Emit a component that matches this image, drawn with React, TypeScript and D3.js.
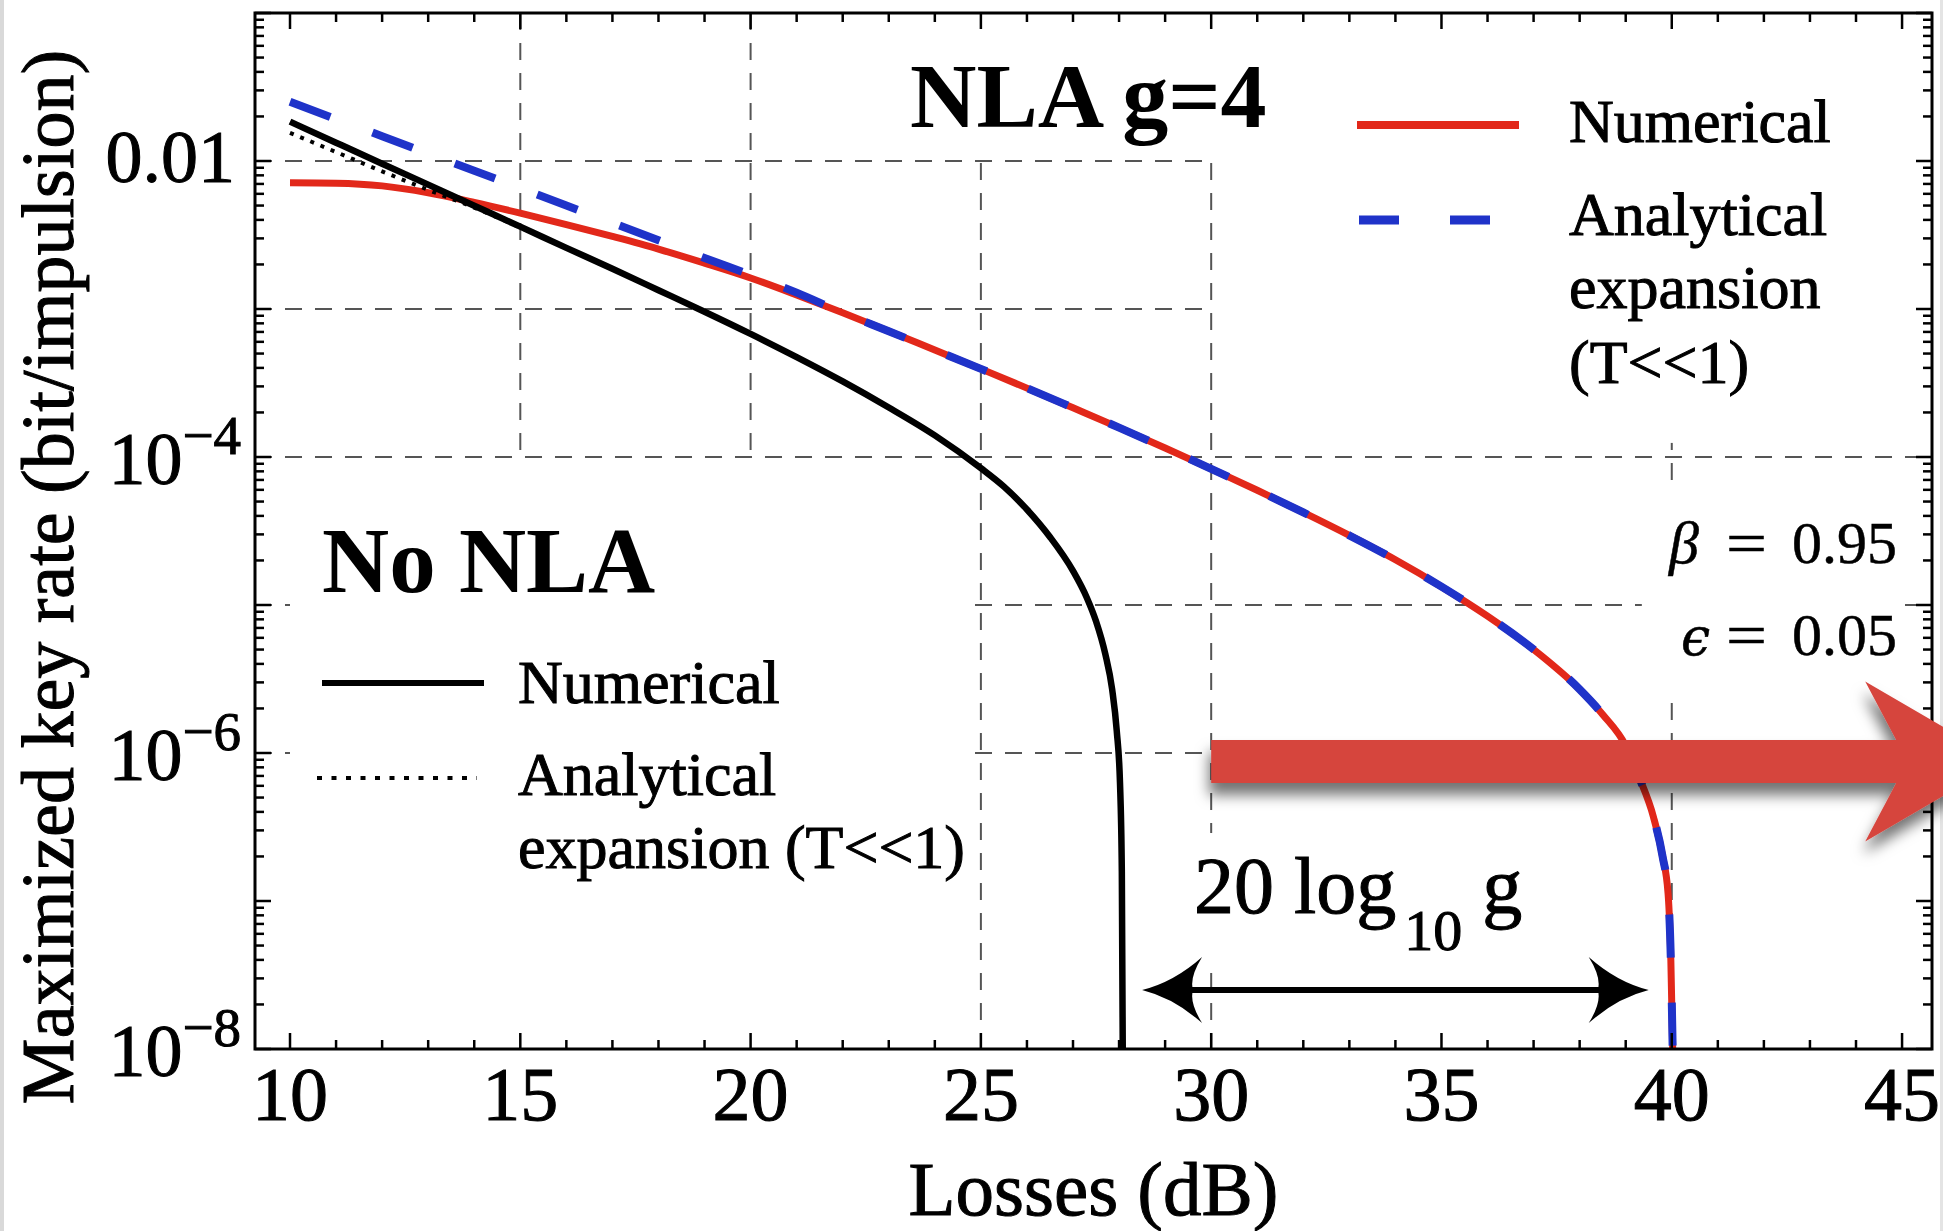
import React from "react";
import * as d3 from "d3";

const WIDTH = 1943;
const HEIGHT = 1231;

// Maximized key rate (bit/impulsion) versus losses (dB): [loss, rate]
const noNlaNumerical: [number, number][] = [
  [10, 1.845e-2], [11, 1.33e-2], [12, 9.59e-3], [13, 6.92e-3], [14, 4.99e-3],
  [15, 3.6e-3], [16, 2.59e-3], [17, 1.87e-3], [18, 1.34e-3], [19, 9.59e-4],
  [20, 6.79e-4], [21, 4.73e-4], [22, 3.24e-4], [23, 2.16e-4], [24, 1.4e-4],
  [25, 8.41e-5], [25.5, 6.31e-5], [26, 4.42e-5], [26.5, 2.88e-5], [27, 1.7e-5],
  [27.3, 1.12e-5], [27.5, 7.76e-6], [27.7, 4.68e-6], [27.85, 2.69e-6],
  [27.95, 1.41e-6], [28.02, 6.31e-7], [28.06, 1.58e-7], [28.08, 1.0e-8],
];

const noNlaAnalytical: [number, number][] = [
  [10, 1.55e-2], [11, 1.15e-2], [12, 8.51e-3], [13, 6.38e-3], [14, 4.84e-3],
  [15, 3.55e-3], [16, 2.59e-3], [17, 1.87e-3], [18, 1.34e-3], [19, 9.59e-4],
  [20, 6.79e-4], [21, 4.73e-4], [22, 3.24e-4], [23, 2.16e-4], [24, 1.4e-4],
  [25, 8.41e-5], [25.5, 6.31e-5], [26, 4.42e-5], [26.5, 2.88e-5], [27, 1.7e-5],
  [27.3, 1.12e-5], [27.5, 7.76e-6], [27.7, 4.68e-6], [27.85, 2.69e-6],
  [27.95, 1.41e-6], [28.02, 6.31e-7], [28.06, 1.58e-7], [28.08, 1.0e-8],
];

const nlaNumerical: [number, number][] = [
  [10, 7.13e-3], [11, 7.08e-3], [12, 6.79e-3], [13, 6.1e-3], [14, 5.25e-3],
  [15, 4.44e-3], [16, 3.72e-3], [17, 3.09e-3], [18, 2.54e-3], [19, 2.04e-3],
  [20, 1.62e-3], [21, 1.245e-3], [22, 9.44e-4], [23, 7.08e-4], [24, 5.28e-4],
  [25, 3.94e-4], [26, 2.92e-4], [27, 2.15e-4], [28, 1.58e-4], [29, 1.15e-4],
  [30, 8.32e-5], [31, 5.96e-5], [32, 4.22e-5], [33, 2.95e-5], [34, 2.02e-5],
  [35, 1.33e-5], [36, 8.41e-6], [37, 5.01e-6], [38, 2.69e-6], [38.5, 1.82e-6],
  [39, 1.12e-6], [39.3, 6.76e-7], [39.6, 3.72e-7], [39.8, 2.0e-7],
  [39.92, 1.12e-7], [39.98, 3.98e-8], [40.02, 1.0e-8],
];

const nlaAnalytical: [number, number][] = [
  [10, 2.51e-2], [11, 1.92e-2], [12, 1.47e-2], [13, 1.12e-2], [14, 8.6e-3],
  [15, 6.56e-3], [16, 5.0e-3], [17, 3.82e-3], [18, 2.91e-3], [19, 2.21e-3],
  [20, 1.7e-3], [21, 1.29e-3], [22, 9.44e-4], [23, 7.08e-4], [24, 5.28e-4],
  [25, 3.94e-4], [26, 2.92e-4], [27, 2.15e-4], [28, 1.58e-4], [29, 1.15e-4],
  [30, 8.32e-5], [31, 5.96e-5], [32, 4.22e-5], [33, 2.95e-5], [34, 2.02e-5],
  [35, 1.33e-5], [36, 8.41e-6], [37, 5.01e-6], [38, 2.69e-6], [38.5, 1.82e-6],
  [39, 1.12e-6], [39.3, 6.76e-7], [39.6, 3.72e-7], [39.8, 2.0e-7],
  [39.92, 1.12e-7], [39.98, 3.98e-8], [40.02, 1.0e-8],
];

const xTickValues = [10, 15, 20, 25, 30, 35, 40, 45];
const yLabelValues = [1e-2, 1e-4, 1e-6, 1e-8];
const yLabelExponents = ["", "−4", "−6", "−8"];
const gridLosses = [15, 20, 25, 30, 40];
const gridRates = [1e-2, 1e-3, 1e-4, 1e-5, 1e-6];

// white label backgrounds (data coordinates) that sit over the grid
const labelBackgrounds = [
  { x0: 20.12, x1: 30.1, r0: 1e-1, r1: 1.05e-2 },
  { x0: 30.05, x1: 45.65, r0: 1e-1, r1: 1.245e-4 },
  { x0: 10.0, x1: 24.82, r0: 9.66e-5, r1: 1e-8 },
  { x0: 39.35, x1: 44.95, r0: 6.3e-5, r1: 2.29e-6 },
  { x0: 29.43, x1: 37.25, r0: 2.88e-7, r1: 3.7e-8 },
];

// 20 log10 g gap marker and the highlight arrow
const gapStart = 28.5;
const gapEnd = 39.5;
const gapLevel = 2.5e-8;
const bigArrowFrom = 30;
const bigArrowHead = 44.2;
const bigArrowLevel = 8.77e-7;

const SERIF = "'Liberation Serif', 'Times New Roman', serif";
const RED = "#e2281a";
const BLUE = "#1f33c9";
const TEXT_WEIGHT = 1.0;

export default function App() {
  const left = 255;
  const right = 1932;
  const top = 13;
  const bottom = 1049;

  const x = d3.scaleLinear().domain([9.24, 45.65]).range([left, right]);
  const y = d3.scaleLog().domain([1e-8, 1e-1]).range([bottom, top]);

  const line = d3
    .line<[number, number]>()
    .x((d) => x(d[0]))
    .y((d) => y(d[1]))
    .curve(d3.curveMonotoneX);

  const xMinor = d3.range(10, 46, 1).filter((v) => v % 5 !== 0);
  const yMajor = d3.range(-8, 0).map((e) => Math.pow(10, e));
  const yMinor: number[] = [];
  for (let e = -8; e < -1; e++) {
    for (let k = 2; k <= 9; k++) yMinor.push(k * Math.pow(10, e));
  }

  const tickMajor = 16;
  const tickMinor = 9;

  // double arrow geometry
  const gy = y(gapLevel);
  const gx0 = x(gapStart);
  const gx1 = x(gapEnd);
  const headL = 60;
  const headH = 33;
  const notch = 51;
  const leftHead = `M${gx0},${gy} Q${gx0 + 32},${gy - 8} ${gx0 + headL},${gy - headH} Q${gx0 + notch - 4},${gy - 12} ${gx0 + notch},${gy} Q${gx0 + notch - 4},${gy + 12} ${gx0 + headL},${gy + headH} Q${gx0 + 32},${gy + 8} ${gx0},${gy} Z`;
  const rightHead = `M${gx1},${gy} Q${gx1 - 32},${gy - 8} ${gx1 - headL},${gy - headH} Q${gx1 - notch + 4},${gy - 12} ${gx1 - notch},${gy} Q${gx1 - notch + 4},${gy + 12} ${gx1 - headL},${gy + headH} Q${gx1 - 32},${gy + 8} ${gx1},${gy} Z`;

  // big arrow geometry
  const by = y(bigArrowLevel);
  const bx0 = x(bigArrowFrom);
  const bxh = x(bigArrowHead);
  const shaftHalf = 21.5;
  const headHalf = 80;
  const bigArrow = [
    [bx0, by - shaftHalf],
    [bxh + 31, by - shaftHalf],
    [bxh, by - headHalf],
    [bxh + 137, by],
    [bxh, by + headHalf],
    [bxh + 31, by + shaftHalf],
    [bx0, by + shaftHalf],
  ]
    .map((p) => p.join(","))
    .join(" ");

  return (
    <svg
      width={WIDTH}
      height={HEIGHT}
      viewBox={`0 0 ${WIDTH} ${HEIGHT}`}
      style={{ position: "absolute", left: 0, top: 0, display: "block" }}
      fontFamily={SERIF}
    >
      <defs>
        <clipPath id="plotArea">
          <rect x={left} y={top} width={right - left} height={bottom - top} />
        </clipPath>
        <filter id="arrowShadow" x="-10%" y="-60%" width="125%" height="220%">
          <feDropShadow dx="-2" dy="12" stdDeviation="7" floodColor="#000" floodOpacity="0.55" />
        </filter>
      </defs>

      <rect x={0} y={0} width={WIDTH} height={HEIGHT} fill="#fff" />
      <rect x={0} y={0} width={4} height={HEIGHT} fill="#d9d9d9" />
      <rect x={WIDTH - 3} y={0} width={3} height={HEIGHT} fill="#e4e4e4" />

      {/* grid */}
      <g clipPath="url(#plotArea)" stroke="#555" strokeWidth={2} strokeDasharray="17,13" fill="none">
        {gridRates.map((r) => (
          <line key={`gy${r}`} x1={left} x2={right} y1={y(r)} y2={y(r)} />
        ))}
        {gridLosses.map((l) => (
          <line key={`gx${l}`} x1={x(l)} x2={x(l)} y1={top} y2={bottom} />
        ))}
      </g>

      {/* label backgrounds */}
      <g fill="#fff">
        {labelBackgrounds.map((b, i) => (
          <rect
            key={i}
            x={x(b.x0)}
            y={y(b.r0)}
            width={x(b.x1) - x(b.x0)}
            height={y(b.r1) - y(b.r0)}
          />
        ))}
      </g>

      {/* curves */}
      <g clipPath="url(#plotArea)" fill="none">
        <path d={line(nlaNumerical) || ""} stroke={RED} strokeWidth={7} />
        <path d={line(nlaAnalytical) || ""} stroke={BLUE} strokeWidth={8} strokeDasharray="43,45" />
        <path d={line(noNlaAnalytical) || ""} stroke="#000" strokeWidth={4} strokeDasharray="4,7" />
        <path d={line(noNlaNumerical) || ""} stroke="#000" strokeWidth={6.5} />
      </g>

      {/* frame and ticks */}
      <g stroke="#000" strokeWidth={2.5}>
        {xTickValues.map((v) => (
          <g key={`xt${v}`}>
            <line x1={x(v)} x2={x(v)} y1={bottom} y2={bottom - tickMajor} />
            <line x1={x(v)} x2={x(v)} y1={top} y2={top + tickMajor} />
          </g>
        ))}
        {xMinor.map((v) => (
          <g key={`xm${v}`}>
            <line x1={x(v)} x2={x(v)} y1={bottom} y2={bottom - tickMinor} />
            <line x1={x(v)} x2={x(v)} y1={top} y2={top + tickMinor} />
          </g>
        ))}
        {yMajor.map((v) => (
          <g key={`yt${v}`}>
            <line x1={left} x2={left + tickMajor} y1={y(v)} y2={y(v)} />
            <line x1={right} x2={right - tickMajor} y1={y(v)} y2={y(v)} />
          </g>
        ))}
        {yMinor.map((v) => (
          <g key={`ym${v}`}>
            <line x1={left} x2={left + tickMinor} y1={y(v)} y2={y(v)} />
            <line x1={right} x2={right - tickMinor} y1={y(v)} y2={y(v)} />
          </g>
        ))}
      </g>
      <rect
        x={left}
        y={top}
        width={right - left}
        height={bottom - top}
        fill="none"
        stroke="#000"
        strokeWidth={3}
      />

      <g fill="#000" stroke="#000" strokeWidth={TEXT_WEIGHT}>
        {/* tick labels */}
        <g fontSize={76} textAnchor="middle">
          {xTickValues.map((v) => (
            <text key={`xl${v}`} x={x(v)} y={bottom + 71}>
              {v}
            </text>
          ))}
        </g>
        <g fontSize={74} textAnchor="end">
          {yLabelValues.map((v, i) =>
            yLabelExponents[i] === "" ? (
              <text key={`yl${v}`} x={left - 20} y={y(v) + 21}>
                0.01
              </text>
            ) : (
              <text key={`yl${v}`} x={left - 14} y={y(v) + 27}>
                10
                <tspan fontSize={55} dy={-30}>
                  {yLabelExponents[i]}
                </tspan>
              </text>
            )
          )}
        </g>

        {/* axis titles */}
        <text x={(left + right) / 2} y={1215} fontSize={77} textAnchor="middle">
          Losses (dB)
        </text>
        <text transform="translate(73,577) rotate(-90)" fontSize={74} textAnchor="middle">
          Maximized key rate (bit/impulsion)
        </text>

        {/* legend texts */}
        <g fontSize={62}>
          <text x={1569} y={142}>Numerical</text>
          <text x={1569} y={235}>Analytical</text>
          <text x={1569} y={308}>expansion</text>
          <text x={1569} y={383}>(T&lt;&lt;1)</text>
          <text x={518} y={703}>Numerical</text>
          <text x={518} y={795}>Analytical</text>
          <text x={518} y={868}>expansion (T&lt;&lt;1)</text>
        </g>

        {/* parameters */}
        <g fontSize={60} strokeWidth={0.5}>
          <text x={1669} y={563} fontStyle="italic">β</text>
          <text x={1726} y={563} textLength={41} lengthAdjust="spacingAndGlyphs">=</text>
          <text x={1897} y={563} textAnchor="end">0.95</text>
          <text x={1681} y={655} fontStyle="italic" fontFamily="'DejaVu Serif', serif" fontSize={52}>ϵ</text>
          <text x={1726} y={655} textLength={41} lengthAdjust="spacingAndGlyphs">=</text>
          <text x={1897} y={655} textAnchor="end">0.05</text>
        </g>

        {/* 20 log10 g */}
        <text x={1194} y={913} fontSize={80}>
          20 log
          <tspan fontSize={58} dx={8} dy={37}>
            10
          </tspan>
          <tspan dy={-37}> g</tspan>
        </text>
      </g>

      {/* bold labels */}
      <text x={910} y={127} fontSize={92} fontWeight="bold">
        NLA g=4
      </text>
      <text x={322} y={592} fontSize={93} fontWeight="bold">
        No NLA
      </text>

      {/* legend keys */}
      <line x1={1357} x2={1519} y1={125} y2={125} stroke={RED} strokeWidth={8} />
      <line x1={1359} x2={1490} y1={220} y2={220} stroke={BLUE} strokeWidth={9} strokeDasharray="40,51" />
      <line x1={322} x2={484} y1={683} y2={683} stroke="#000" strokeWidth={6} />
      <line x1={317} x2={477} y1={778} y2={778} stroke="#000" strokeWidth={4} strokeDasharray="5,9.5" />

      {/* gap arrow */}
      <line x1={gx0 + notch - 2} x2={gx1 - notch + 2} y1={gy} y2={gy} stroke="#000" strokeWidth={6} />
      <path d={leftHead} fill="#000" />
      <path d={rightHead} fill="#000" />

      {/* highlight arrow */}
      <polygon points={bigArrow} fill="#d6453e" filter="url(#arrowShadow)" />
    </svg>
  );
}
